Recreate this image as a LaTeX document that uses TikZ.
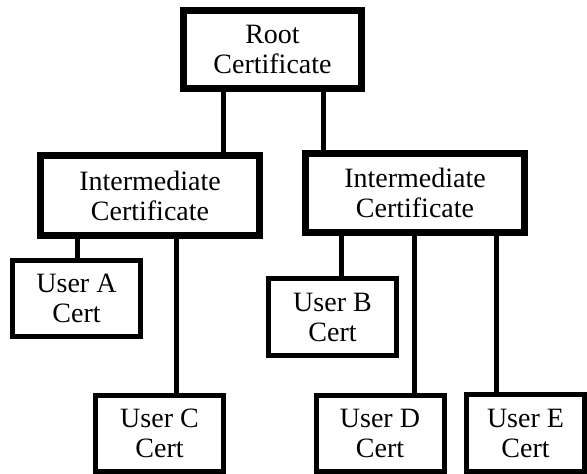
\documentclass[tikz,border=0pt]{standalone}
\usepackage{fontspec}
\setmainfont{Liberation Serif}

\begin{document}
\begin{tikzpicture}[x=0.75pt, y=-0.75pt,
    cert/.style={draw, align=center, inner sep=0pt, outer sep=0pt,
      font=\fontsize{21}{22.5}\selectfont},
    rootbox/.style={cert, line width=5pt, minimum width=133.5pt, minimum height=58.5pt},
    midbox/.style={cert, line width=5.25pt, minimum width=164.25pt, minimum height=59.5pt},
    userbox/.style={cert, line width=3.75pt, minimum width=96pt, minimum height=57.5pt},
    link/.style={line width=3.75pt}]
    \useasboundingbox (0,0) rectangle (587,474);

    \node[rootbox] (root) at (272.5,49.5) {Root\\Certificate};
    \node[midbox]  (intl) at (150,195.5)  {Intermediate\\Certificate};
    \node[midbox]  (intr) at (415,193)    {Intermediate\\Certificate};
    \node[userbox] (usera) at (76.5,298.5) {User A\\Cert};
    \node[userbox] (userb) at (332.5,317)  {User B\\Cert};
    \node[userbox] (userc) at (159.5,433.5) {User C\\Cert};
    \node[userbox] (userd) at (380,433.5)   {User D\\Cert};
    \node[userbox, minimum width=88.5pt] (usere) at (525.5,433) {User E\\Cert};

    \draw[link] (root.south -| 223.5,0) -- (intl.north -| 223.5,0);
    \draw[link] (root.south -| 323.5,0) -- (intr.north -| 323.5,0);
    \draw[link] (intl.south -| 77,0)    -- (usera.north -| 77,0);
    \draw[link] (intl.south -| 176,0)   -- (userc.north -| 176,0);
    \draw[link] (intr.south -| 341,0)   -- (userb.north -| 341,0);
    \draw[link] (intr.south -| 414.5,0) -- (userd.north -| 414.5,0);
    \draw[link] (intr.south -| 496.5,0) -- (usere.north -| 496.5,0);
\end{tikzpicture}
\end{document}
